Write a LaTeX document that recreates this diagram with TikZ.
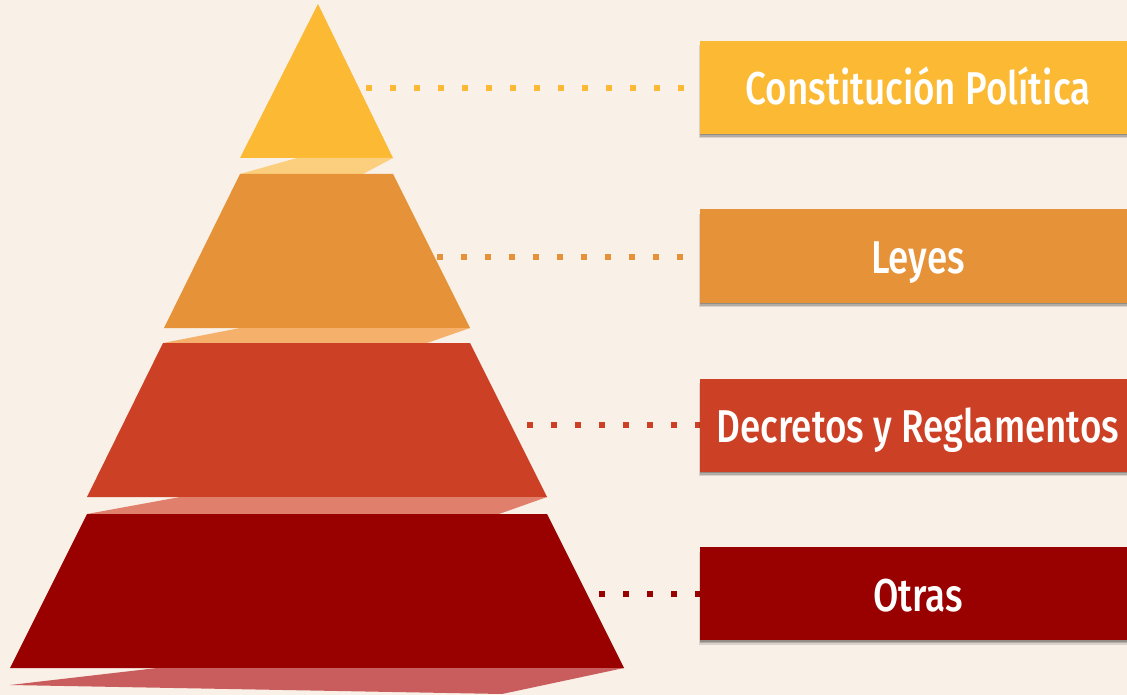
\documentclass[tikz,border=0pt]{standalone}
\usepackage{fontspec}
\newfontfamily\labfont[FakeStretch=0.8]{Fira Sans Medium}
\usetikzlibrary{shadows}
\definecolor{bg}{HTML}{F9F0E7}
\definecolor{cA}{HTML}{FBB934}
\definecolor{cAl}{HTML}{FBCF7D}
\definecolor{cB}{HTML}{E69239}
\definecolor{cBl}{HTML}{F5B06B}
\definecolor{cC}{HTML}{CC4125}
\definecolor{cCl}{HTML}{E07F6B}
\definecolor{cD}{HTML}{990000}
\definecolor{cDl}{HTML}{C95C5C}
\tikzset{
  labelbox/.style={rectangle, inner sep=0pt, minimum width=436pt, minimum height=93pt,
    text=white, font=\labfont\fontsize{46}{50}\selectfont,
    text height=45pt, text depth=10pt,
    drop shadow={shadow xshift=0pt, shadow yshift=-1.5pt, opacity=0.18, fill=black},
    drop shadow={shadow xshift=-0.5pt, shadow yshift=-3pt, opacity=0.18, fill=black},
    drop shadow={shadow xshift=-1pt, shadow yshift=-4.5pt, opacity=0.12, fill=black}},
  dotline/.style={line width=6pt, dash pattern=on 6pt off 18pt}
}
\begin{document}
\begin{tikzpicture}[x=1pt,y=-1pt]
\useasboundingbox (0,0) rectangle (1127,695);
\fill[bg] (0,0) rectangle (1127,695);
% pyramid levels
\fill[cA] (318,4) -- (393,158) -- (240,158) -- cycle;
\fill[cAl] (297,158) -- (393,158) -- (363,174) -- (240,174) -- cycle;
\fill[cB] (240,174) -- (393,174) -- (470,328) -- (164,328) -- cycle;
\fill[cBl] (240,328) -- (470,328) -- (427,343) -- (163,343) -- cycle;
\fill[cC] (163,343) -- (470,343) -- (547,497) -- (87,497) -- cycle;
\fill[cCl] (180,497) -- (547,497) -- (499,514) -- (87,514) -- cycle;
\fill[cD] (87,514) -- (547,514) -- (624,668) -- (10,668) -- cycle;
\fill[cDl] (157,668) -- (624,668) -- (502,694) -- (10,685) -- cycle;
% connector start points
\coordinate (s1) at (366,88);
\coordinate (s2) at (437,257);
\coordinate (s3) at (527,425);
\coordinate (s4) at (599,594);
% connectors
\draw[dotline, cA] (s1) -- (700,88);
\draw[dotline, cB] (s2) -- (700,257);
\draw[dotline, cC] (s3) -- (700,425);
\draw[dotline, cD] (s4) -- (700,594);
% label boxes
\node[labelbox, fill=cA] (l1) at (918,87.5) {Constitución Política};
\node[labelbox, fill=cB] (l2) at (918,256) {Leyes};
\node[labelbox, fill=cC] (l3) at (918,425) {Decretos y Reglamentos};
\node[labelbox, fill=cD] (l4) at (918,593.5) {Otras};
\end{tikzpicture}
\end{document}
